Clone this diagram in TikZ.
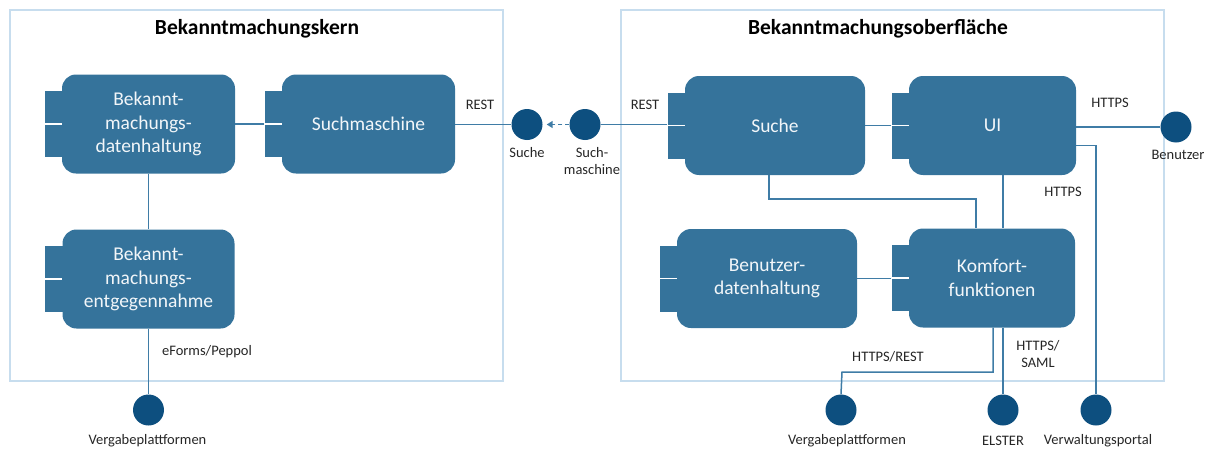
\documentclass[tikz,border=0pt]{standalone}
\usepackage{fontspec}
\setmainfont{Carlito}
\usetikzlibrary{arrows.meta,calc}
\definecolor{compfill}{HTML}{35739B}
\definecolor{portfill}{HTML}{0D4F7F}
\definecolor{framecol}{HTML}{C7DDEE}
\definecolor{wirecol}{HTML}{3F7CA6}
\definecolor{labelcol}{HTML}{262626}
\definecolor{comptext}{HTML}{F2F6F9}

\tikzset{
  frame/.style={draw=framecol, line width=2.5pt},
  frametitle/.style={font=\fontsize{21.5}{26}\selectfont\bfseries, text=black, inner sep=0pt},
  comp/.style={fill=compfill, rounded corners=14pt, minimum height=99pt, inner sep=0pt,
    text=comptext, align=center, font=\fontsize{19.5}{23.5}\selectfont},
  tabbox/.style={fill=compfill, minimum width=18pt, minimum height=66pt, inner sep=0pt},
  tabgap/.style={draw=white, line width=1.4pt},
  port/.style={circle, fill=portfill, minimum size=31pt, inner sep=0pt},
  lbl/.style={text=labelcol, font=\fontsize{14.5}{17}\selectfont, align=center, inner sep=0pt},
  wire/.style={draw=wirecol, line width=1.5pt},
}

% component: name, x, y, width, text
\newcommand\component[5]{%
  \node[comp, minimum width=#4pt] (#1) at (#2,#3) {#5};
  \node[tabbox, anchor=east] (#1-tab) at ([xshift=1pt]#1.west) {};
  \draw[tabgap] (#1-tab.west) -- ([xshift=-1pt]#1-tab.east);
}

\begin{document}
\begin{tikzpicture}[x=1pt,y=-1pt]
\useasboundingbox (0,0) rectangle (1211,450);

% subsystem frames
\draw[frame] (10,10) rectangle (503,381);
\draw[frame] (621,10) rectangle (1164,381);
\node[frametitle] (kernTitle) at (257,29) {Bekanntmachungskern};
\node[frametitle] (oberTitle) at (878,29) {Bekanntmachungsoberfläche};

% components
\component{dat}{148.5}{124}{173}{Bekannt-\\machungs-\\datenhaltung}
\component{such}{368.5}{124}{173}{Suchmaschine}
\component{ent}{148.5}{279}{172}{Bekannt-\\machungs-\\entgegennahme}
\component{suche}{775}{125.5}{180}{Suche}
\component{ui}{992.5}{125.5}{167}{UI}
\component{bdh}{767}{278.5}{180}{Benutzer-\\datenhaltung}
\component{komf}{992}{278}{166}{Komfort-\\funktionen}

% ports
\node[port] (pSuche) at (527,124.5) {};
\node[port] (pSuchm) at (585,124.5) {};
\node[port] (pBenutzer) at (1176,127) {};
\node[port] (pVergabeL) at (148.5,410) {};
\node[port] (pVergabeR) at (841,410) {};
\node[port] (pElster) at (1003,410) {};
\node[port] (pPortal) at (1096,410) {};

% port labels
\node[lbl] (lSuche) at (527,153) {Suche};
\node[lbl] (lSuchm) at (592,161) {Such-\\maschine};
\node[lbl] (lBenutzer) at (1178,155) {Benutzer};
\node[lbl] (lVergabeL) at (147.5,441) {Vergabeplattformen};
\node[lbl] (lVergabeR) at (847,441) {Vergabeplattformen};
\node[lbl] (lElster) at (1003,441) {ELSTER};
\node[lbl] (lPortal) at (1098,441) {Verwaltungsportal};

% connector labels
\node[lbl] (lRestL) at (480,105) {REST};
\node[lbl] (lRestR) at (645,105) {REST};
\node[lbl] (lHttpsTop) at (1110,103) {HTTPS};
\node[lbl] (lHttpsMid) at (1063,192) {HTTPS};
\node[lbl] (lHttpsRest) at (888,357) {HTTPS/REST};
\node[lbl] (lSaml) at (1038,354) {HTTPS/\\SAML};
\node[lbl] (lEforms) at (207,352) {eForms/Peppol};

% connectors, core
\draw[wire] (dat.east) -- (dat.east -| such-tab.west);
\draw[wire] (dat.south) -- (ent.north);
\draw[wire] (ent.south) -- (pVergabeL.north);
\draw[wire] (such.east |- pSuche) -- (pSuche.west);
\draw[wire, dashed, dash pattern=on 4pt off 3pt, -{Triangle[length=6pt,width=7pt]}]
  (pSuchm.west) -- ([xshift=4pt]pSuche.east);

% connectors, surface
\draw[wire] (pSuchm.east) -- (pSuchm.east -| suche-tab.west);
\draw[wire] (suche.east) -- (ui-tab.west);
\draw[wire] ([xshift=-6pt]suche.south) |- (976,199) -- ([xshift=-16pt]komf.north);
\draw[wire] ([xshift=10.5pt]ui.south) -- ([xshift=11pt]komf.north);
\draw[wire] (ui.east |- pBenutzer) -- (pBenutzer.west);
\draw[wire] ([yshift=-20pt]ui.east) -| (pPortal.north);
\draw[wire] (bdh.east) -- (bdh.east -| komf-tab.west);
\draw[wire] ([xshift=1pt]komf.south) |- (842,372) -- (pVergabeR.north);
\draw[wire] ([xshift=11pt]komf.south) -- (pElster.north);
\end{tikzpicture}
\end{document}
